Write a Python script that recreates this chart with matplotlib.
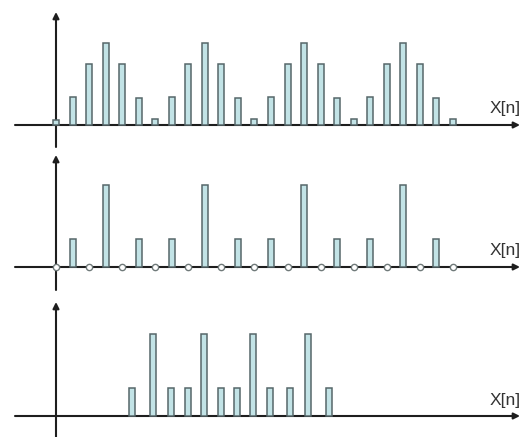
import matplotlib
matplotlib.use("Agg")
import matplotlib.pyplot as plt
import numpy as np

# ---- data ----
top_n = list(range(25))
top_values = [0.25, 1.35, 3.0, 4.0, 3.0, 1.3, 0.3,
              1.35, 3.0, 4.0, 3.0, 1.3, 0.3,
              1.35, 3.0, 4.0, 3.0, 1.3, 0.3,
              1.35, 3.0, 4.0, 3.0, 1.3, 0.3]
mid_n = list(range(25))
mid_values = [0, 1.35, 0, 4.0, 0, 1.35, 0,
              1.35, 0, 4.0, 0, 1.35, 0,
              1.35, 0, 4.0, 0, 1.35, 0,
              1.35, 0, 4.0, 0, 1.35, 0]
bot_n = [4.59, 5.86, 6.95, 7.98, 8.95, 9.98, 10.94, 11.91, 12.94, 14.15, 15.24, 16.51]
bot_values = [1.35, 4.0, 1.35, 1.35, 4.0, 1.35, 1.35, 4.0, 1.35, 1.35, 4.0, 1.35]
axis_label = "X[n]"

# ---- style ----
W, H = 525, 437
PX_X = 16.54    # px per sample
PX_Y = 20.5     # px per unit
X0 = 56         # px of n=0
bar_fc = "#c2e3e6"
bar_ec = "#56676a"
axis_c = "#1e1e1e"

fig = plt.figure(figsize=(W / 100, H / 100), dpi=100)

# panel geometry in pixels: (axes top, axes bottom, baseline, arrow tip)
panels = [(0, 147, 125, 12), (147, 290, 267, 155), (290, 437, 416, 302)]
label_y_px = [108, 250, 400]


def make_ax(top, bot, base):
    ax = fig.add_axes([0, 1 - bot / H, 1, (bot - top) / H])
    ax.set_xlim(-X0 / PX_X, (W - X0) / PX_X)
    ax.set_ylim(-(bot - base) / PX_Y, (base - top) / PX_Y)
    ax.axis("off")
    return ax


axes = [make_ax(t, b, base) for t, b, base, _ in panels]

for i, (ax, (t, b, base, tip)) in enumerate(zip(axes, panels)):
    ylo = ax.get_ylim()[0]
    tip_y = (base - tip) / PX_Y
    # vertical axis
    ax.annotate("", xy=(0, tip_y), xytext=(0, ylo),
                arrowprops=dict(arrowstyle="-|>", lw=1.5, color=axis_c,
                                mutation_scale=9, shrinkA=0, shrinkB=0),
                zorder=3)
    # horizontal axis
    xs = (15 - X0) / PX_X
    xe = (520 - X0) / PX_X
    ax.annotate("", xy=(xe, 0), xytext=(xs, 0),
                arrowprops=dict(arrowstyle="-|>", lw=1.5, color=axis_c,
                                mutation_scale=9, shrinkA=0, shrinkB=0),
                zorder=3)
    ly = (base - label_y_px[i]) / PX_Y
    ax.text((505 - X0) / PX_X, ly, axis_label, ha="center", va="center",
            fontsize=12.5, family="Liberation Sans", color="#333333")

bw = 6.0 / PX_X
# top panel
axes[0].bar(top_n, top_values, width=bw, color=bar_fc, edgecolor=bar_ec,
            linewidth=1.1, zorder=4)
# middle panel
mn = np.array(mid_n)
mv = np.array(mid_values)
nz = mv > 0
axes[1].bar(mn[nz], mv[nz], width=bw, color=bar_fc, edgecolor=bar_ec,
            linewidth=1.1, zorder=4)
axes[1].plot(mn[~nz], mv[~nz], "o", ms=4.5, mfc="white", mec="#707a7a",
             mew=1.0, zorder=5, linestyle="none")
# bottom panel
axes[2].bar(bot_n, bot_values, width=bw, color=bar_fc, edgecolor=bar_ec,
            linewidth=1.1, zorder=4)

fig.savefig("out.png", dpi=100)
